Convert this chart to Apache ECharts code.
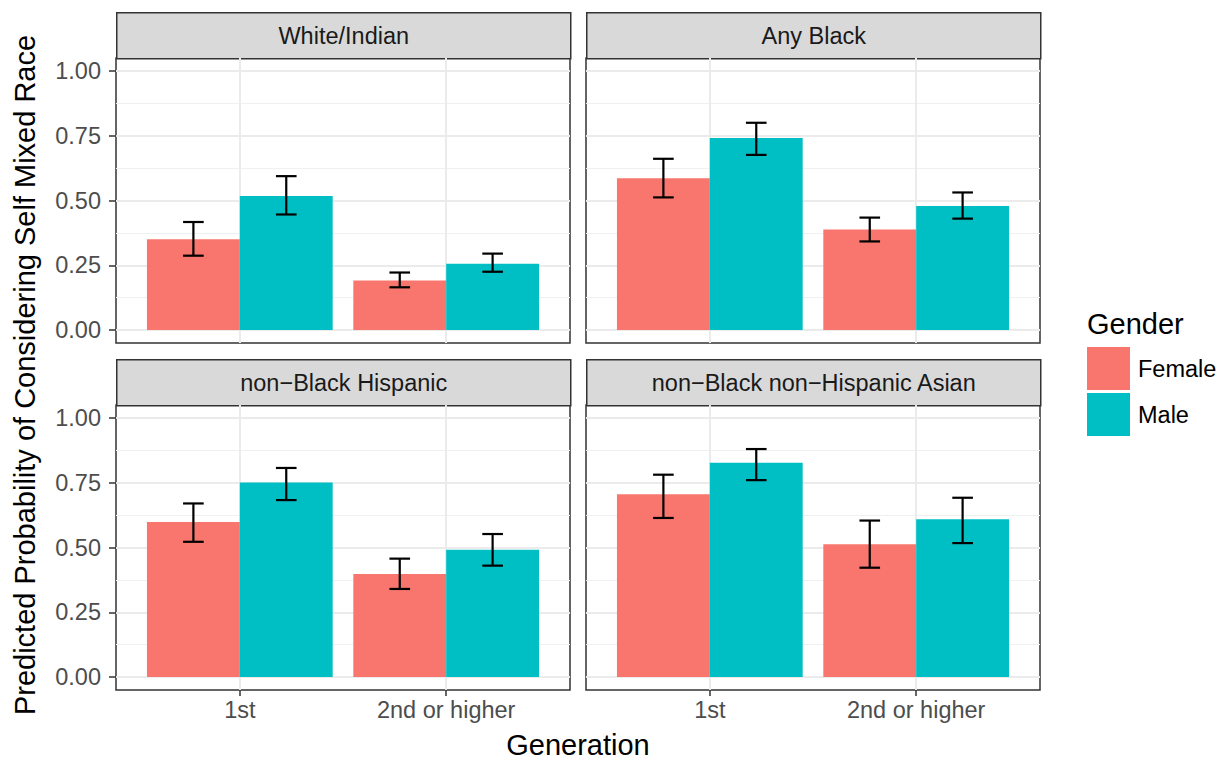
<!DOCTYPE html>
<html>
<head>
<meta charset="utf-8">
<script src="https://cdn.jsdelivr.net/npm/echarts@6/dist/echarts.min.js"></script>
<style>
  html, body { margin: 0; padding: 0; background: #fff; }
  #chart { width: 1226px; height: 762px; }
</style>
</head>
<body>
<div id="chart"></div>
<script>
// ---------- data ----------
const panelNames = ['White/Indian', 'Any Black', 'non\u2212Black Hispanic', 'non\u2212Black non\u2212Hispanic Asian'];
const generations = ['1st', '2nd or higher'];
const genders = ['Female', 'Male'];
const yTicks = [0, 0.25, 0.5, 0.75, 1];
const yMinorTicks = [0.125, 0.375, 0.625, 0.875];

// per panel: [1st, 2nd or higher]
const femaleValues = [[0.350, 0.191], [0.586, 0.388], [0.598, 0.398], [0.706, 0.513]];
const femaleLower  = [[0.287, 0.165], [0.512, 0.342], [0.522, 0.340], [0.614, 0.422]];
const femaleUpper  = [[0.417, 0.222], [0.661, 0.434], [0.670, 0.457], [0.781, 0.604]];
const maleValues   = [[0.517, 0.256], [0.741, 0.479], [0.751, 0.491], [0.827, 0.609]];
const maleLower    = [[0.446, 0.225], [0.676, 0.430], [0.683, 0.430], [0.760, 0.517]];
const maleUpper    = [[0.594, 0.295], [0.800, 0.531], [0.807, 0.552], [0.880, 0.692]];

// ---------- styling / layout ----------
const COLORS = ['#F8766D', '#00BFC4'];
const BAR_W = 0.45;
const CAP_W = 0.1;
const FONT = '"Liberation Sans", Arial, Helvetica, sans-serif';
const SMALL = 23.5, BIG = 29;
const PW = 454, PH = 285, STRIP_H = 46;
const layout = [
  { left: 116, top: 58 },
  { left: 586, top: 58 },
  { left: 116, top: 405 },
  { left: 586, top: 405 }
];

function renderFor(genderIdx) {
  return function (params, api) {
    const g = api.value(0), v = api.value(1), lo = api.value(2), hi = api.value(3);
    const xc = g + (genderIdx === 0 ? -1 : 1) * BAR_W / 2;
    const a = api.coord([xc - BAR_W / 2, 0]);
    const b = api.coord([xc + BAR_W / 2, v]);
    const pl = api.coord([xc, lo]);
    const ph = api.coord([xc, hi]);
    const capHalf = api.size([CAP_W, 0])[0] / 2;
    const lineStyle = { stroke: '#000', lineWidth: 2.2 };
    return {
      type: 'group',
      children: [
        { type: 'rect', shape: { x: a[0], y: b[1], width: b[0] - a[0], height: a[1] - b[1] },
          style: { fill: COLORS[genderIdx] } },
        { type: 'line', shape: { x1: pl[0], y1: pl[1], x2: ph[0], y2: ph[1] }, style: lineStyle },
        { type: 'line', shape: { x1: ph[0] - capHalf, y1: ph[1], x2: ph[0] + capHalf, y2: ph[1] }, style: lineStyle },
        { type: 'line', shape: { x1: pl[0] - capHalf, y1: pl[1], x2: pl[0] + capHalf, y2: pl[1] }, style: lineStyle }
      ]
    };
  };
}

const grids = [], xAxes = [], yAxes = [], series = [], graphics = [];
layout.forEach((L, i) => {
  const isBottom = i >= 2, isLeft = i % 2 === 0;
  grids.push({ left: L.left, top: L.top, width: PW, height: PH, show: true,
    borderColor: '#333333', borderWidth: 1.5, backgroundColor: '#fff', containLabel: false });
  xAxes.push({
    type: 'value', gridIndex: i, min: 0.4, max: 2.6,
    axisLine: { show: false, onZero: false },
    axisTick: { show: isBottom, length: 6, customValues: [1, 2], lineStyle: { color: '#333333', width: 1.5 } },
    axisLabel: { show: isBottom, customValues: [1, 2], margin: 8,
      formatter: v => generations[Math.round(v) - 1] || '',
      color: '#4D4D4D', fontSize: SMALL, fontFamily: FONT },
    splitLine: { show: true, lineStyle: { color: '#EBEBEB', width: 2 } }
  });
  yAxes.push({
    type: 'value', gridIndex: i, min: -0.05, max: 1.05,
    axisLine: { show: false, onZero: false },
    axisTick: { show: isLeft, length: 7, customValues: yTicks, lineStyle: { color: '#333333', width: 1.5 } },
    axisLabel: { show: isLeft, customValues: yTicks, margin: 15,
      formatter: v => v.toFixed(2), color: '#4D4D4D', fontSize: SMALL, fontFamily: FONT },
    splitLine: { show: true, lineStyle: { color: '#EBEBEB', width: 2 } }
  });
  yAxes.push({
    type: 'value', gridIndex: i, min: -0.05, max: 1.05, position: 'left',
    axisLine: { show: false, onZero: false },
    axisTick: { show: false, customValues: yMinorTicks },
    axisLabel: { show: false, customValues: yMinorTicks },
    splitLine: { show: true, lineStyle: { color: '#F0F0F0', width: 1 } }
  });
  const sets = [
    [femaleValues, femaleLower, femaleUpper],
    [maleValues, maleLower, maleUpper]
  ];
  sets.forEach((s, gi) => {
    series.push({
      type: 'custom', name: genders[gi], xAxisIndex: i, yAxisIndex: 2 * i,
      itemStyle: { color: COLORS[gi] },
      renderItem: renderFor(gi),
      encode: { x: 0, y: 1 },
      clip: false, z: 5,
      data: generations.map((gen, k) => [k + 1, s[0][i][k], s[1][i][k], s[2][i][k]])
    });
  });
  // strip
  graphics.push({
    type: 'group', left: L.left, top: L.top - STRIP_H,
    children: [
      { type: 'rect', shape: { x: 0, y: 0, width: PW, height: STRIP_H },
        style: { fill: '#D9D9D9', stroke: '#333333', lineWidth: 1.5 } },
      { type: 'text', x: PW / 2, y: STRIP_H / 2,
        style: { text: panelNames[i], fill: '#1A1A1A', font: SMALL + 'px ' + FONT,
          textAlign: 'center', textVerticalAlign: 'middle' } }
    ]
  });
});

// axis titles
graphics.push({
  type: 'text', x: 25, y: 375, rotation: Math.PI / 2,
  style: { text: 'Predicted Probability of Considering Self Mixed Race', fill: '#000',
    font: BIG + 'px ' + FONT, textAlign: 'center', textVerticalAlign: 'middle' }
});
graphics.push({
  type: 'text', x: 578, y: 745,
  style: { text: 'Generation', fill: '#000', font: BIG + 'px ' + FONT,
    textAlign: 'center', textVerticalAlign: 'middle' }
});
graphics.push({
  type: 'text', x: 1087, y: 324,
  style: { text: 'Gender', fill: '#000', font: BIG + 'px ' + FONT,
    textAlign: 'left', textVerticalAlign: 'middle' }
});

const chart = echarts.init(document.getElementById('chart'), null, { renderer: 'svg' });
chart.setOption({
  animation: false,
  backgroundColor: '#fff',
  grid: grids,
  xAxis: xAxes,
  yAxis: yAxes,
  series: series,
  legend: {
    data: genders, orient: 'vertical', left: 1087, top: 347,
    itemWidth: 43, itemHeight: 43, itemGap: 3, icon: 'rect', padding: 0,
    selectedMode: false,
    textStyle: { fontSize: SMALL, fontFamily: FONT, color: '#000', padding: [0, 0, 0, 3] }
  },
  graphic: graphics
});
</script>
</body>
</html>
